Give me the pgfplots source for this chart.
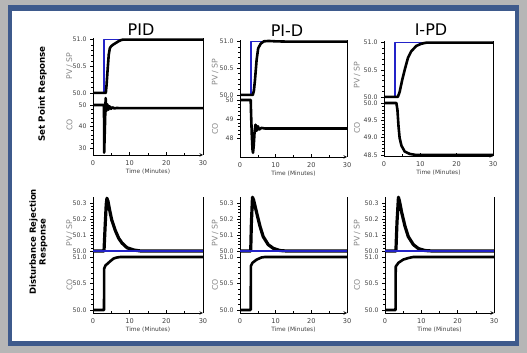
\documentclass[border=0pt]{standalone}
\usepackage{pgfplots}
\pgfplotsset{compat=1.18}
\usepackage{fontspec}
\setmainfont{DejaVu Sans}
\definecolor{spblue}{RGB}{35,35,200}
\definecolor{framebl}{RGB}{62,90,140}
\definecolor{outerg}{RGB}{182,182,182}
\definecolor{lblgray}{RGB}{135,135,135}
\pgfplotsset{
  base/.style={
    scale only axis, anchor=south west, clip=false,
    xmin=0, xmax=30,
    /pgf/number format/assume math mode=true,
    tick label style={font=\fontsize{6.2}{7}\selectfont, text=black!75},
    major tick length=3pt, minor tick length=1.6pt,
    every tick/.style={black, line width=0.5pt},
    minor y tick num=4,
    axis line style={line width=0.6pt},
    x axis line style={-}, y axis line style={-},
    yticklabel style={/pgf/number format/.cd, fixed, fixed zerofill, precision=1},
  },
  pvax/.style={base, axis x line=none, axis y line=box, xtick=\empty,
    ytick pos=left, ytick align=outside},
  coax/.style={base, axis x line=bottom, axis y line=box,
    ytick pos=left, ytick align=outside,
    xtick={0,10,20,30}, minor xtick={5,15,25}, xtick align=inside,
    xticklabel style={yshift=-2pt, font=\fontsize{6.6}{7.5}\selectfont},
    xlabel={Time (Minutes)},
    xlabel style={font=\fontsize{5.9}{6.8}\selectfont, text=black!75, yshift=3pt}},
  sp/.style={spblue, line width=1.6pt, line join=round},
  pv/.style={black, line width=2.6pt, line join=round},
  pvd/.style={black, line width=3.2pt, line join=round},
  spd/.style={spblue, line width=2pt},
  co/.style={black, line width=2.6pt, line join=round},
}
\begin{document}
\begin{tikzpicture}
\fill[outerg] (0pt,0pt) rectangle (527pt,353pt);
\fill[framebl] (8pt,7pt) rectangle (519pt,348pt);
\fill[white] (12pt,12pt) rectangle (515pt,342pt);
\path[use as bounding box] (0pt,0pt) rectangle (527pt,353pt);

% titles
\node[font=\fontsize{16}{18}\selectfont] at (141pt,323pt) {PID};
\node[font=\fontsize{16}{18}\selectfont] at (287pt,322pt) {PI-D};
\node[font=\fontsize{16}{18}\selectfont] at (431pt,323pt) {I-PD};
% row labels
\node[font=\bfseries\fontsize{8.7}{10}\selectfont, rotate=90] at (42.5pt,259pt) {Set Point Response};
\node[font=\bfseries\fontsize{8.5}{9.8}\selectfont, rotate=90, align=center] at (38.5pt,111pt) {Disturbance Rejection\\Response};
% axis labels
\foreach \xx/\ya/\yb in {69.5/287/228, 215/281/224, 357/278/225}{
  \node[font=\fontsize{7.8}{9}\selectfont, text=lblgray, rotate=90] at (\xx pt,\ya pt) {PV / SP};
  \node[font=\fontsize{7.8}{9}\selectfont, text=lblgray, rotate=90] at (\xx pt,\yb pt) {CO};
}
\foreach \xx in {69.5, 215, 357}{
  \node[font=\fontsize{7.8}{9}\selectfont, text=lblgray, rotate=90] at (\xx pt,120pt) {PV / SP};
  \node[font=\fontsize{7.8}{9}\selectfont, text=lblgray, rotate=90] at (\xx pt,68pt) {CO};
}

%% ---------- Row 1: set point response ----------
% PID
\begin{axis}[pvax, at={(93pt,259pt)}, width=110pt, height=56pt,
  ymin=49.98, ymax=51.03, ytick={50,50.5,51}]
\addplot[sp] coordinates {(0,50)(3,50)(3,51)(30,51)};
\addplot[pv] coordinates {(0,50)(3.5,50)(3.7,50.15)(4.0,50.45)(4.3,50.72)(4.6,50.84)(5.0,50.88)(5.6,50.91)(6.3,50.94)(7,50.97)(7.8,50.995)(8.5,51)(30,51)};
\end{axis}
\begin{axis}[coax, at={(93pt,198pt)}, width=110pt, height=61pt,
  ymin=26.7, ymax=55.1, ytick={30,40,50},
  yticklabel style={/pgf/number format/precision=0}]
\addplot[co] coordinates {(0,50)(3,50)(3.05,27.8)(3.25,40)(3.45,53.2)(3.65,47.2)(3.9,50.3)(4.2,47.8)(4.5,49.4)(4.9,48.2)(5.3,48.9)(5.8,48.4)(6.5,48.6)(7.5,48.5)(30,48.5)};
\end{axis}
% PI-D
\begin{axis}[pvax, at={(240pt,257pt)}, width=107pt, height=56pt,
  ymin=49.98, ymax=51.03, ytick={50,50.5,51}]
\addplot[sp] coordinates {(0,50)(3,50)(3,51)(30,51)};
\addplot[pv] coordinates {(0,50)(3.6,50)(3.9,50.08)(4.2,50.28)(4.66,50.66)(5.1,50.875)(5.8,50.96)(6.7,51.005)(8,51.012)(10,51.005)(13,51)(30,51)};
\end{axis}
\begin{axis}[coax, at={(240pt,196pt)}, width=107pt, height=61pt,
  ymin=47.0, ymax=50.21, ytick={48,49,50},
  yticklabel style={/pgf/number format/precision=0}]
\addplot[co] coordinates {(0,50)(3,50)(3.1,49.3)(3.3,48.2)(3.5,47.4)(3.65,47.22)(3.85,47.6)(4.1,48.35)(4.35,48.7)(4.65,48.38)(5.0,48.62)(5.4,48.45)(6.0,48.53)(7,48.5)(30,48.5)};
\end{axis}
% I-PD
\begin{axis}[pvax, at={(384pt,255pt)}, width=109pt, height=57pt,
  ymin=49.98, ymax=51.03, ytick={50,50.5,51}]
\addplot[sp] coordinates {(0,50)(3,50)(3,51)(30,51)};
\addplot[pv] coordinates {(0,50)(3.8,50)(4.3,50.09)(5.0,50.31)(5.7,50.5)(6.6,50.72)(7.5,50.84)(8.9,50.94)(10.3,50.98)(11.7,51)(30,51)};
\end{axis}
\begin{axis}[coax, at={(384pt,197pt)}, width=109pt, height=58pt,
  ymin=48.471, ymax=50.144, ytick={48.5,49,49.5,50}]
\addplot[co] coordinates {(0,50)(3.4,50)(3.7,49.8)(4.0,49.32)(4.3,48.99)(4.8,48.77)(5.7,48.6)(7.1,48.53)(8.9,48.5)(30,48.5)};
\end{axis}

%% ---------- Row 2: disturbance rejection ----------
% PID
\begin{axis}[pvax, at={(93pt,100pt)}, width=110pt, height=56pt,
  ymin=49.9875, ymax=50.3375, ytick={50,50.1,50.2,50.3}]
\addplot[pvd] coordinates {(0,50)(3,50)(3.3,50.15)(3.6,50.29)(3.8,50.33)(4.1,50.31)(4.5,50.26)(5.1,50.195)(6.05,50.13)(7,50.08)(7.9,50.05)(9.3,50.02)(11.2,50.006)(13,50)(30,50)};
\addplot[spd] coordinates {(0,50)(30,50)};
\end{axis}
\begin{axis}[coax, at={(93pt,40pt)}, width=110pt, height=60pt,
  ymin=49.943, ymax=51.075, ytick={50,50.5,51}]
\addplot[co] coordinates {(0,50)(3,50)(3.05,50.78)(3.4,50.84)(3.9,50.87)(4.7,50.92)(5.6,50.97)(6.5,50.99)(7.5,51)(30,51)};
\end{axis}
% PI-D
\begin{axis}[pvax, at={(240pt,100pt)}, width=107pt, height=56pt,
  ymin=49.9875, ymax=50.3375, ytick={50,50.1,50.2,50.3}]
\addplot[pvd] coordinates {(0,50)(3,50)(3.2,50.18)(3.5,50.336)(3.8,50.32)(4.66,50.24)(5.6,50.155)(6.5,50.09)(7.9,50.04)(9.3,50.017)(11.2,50.003)(13,50)(30,50)};
\addplot[spd] coordinates {(0,50)(30,50)};
\end{axis}
\begin{axis}[coax, at={(240pt,40pt)}, width=107pt, height=60pt,
  ymin=49.943, ymax=51.075, ytick={50,50.5,51}]
\addplot[co] coordinates {(0,50)(3,50)(3.05,50.83)(3.5,50.89)(4.66,50.95)(6.0,50.99)(7,51)(30,51)};
\end{axis}
% I-PD
\begin{axis}[pvax, at={(385pt,100pt)}, width=109pt, height=56pt,
  ymin=49.9875, ymax=50.3375, ytick={50,50.1,50.2,50.3}]
\addplot[pvd] coordinates {(0,50)(3,50)(3.3,50.18)(3.7,50.336)(4.0,50.31)(4.6,50.24)(5.5,50.155)(6.4,50.09)(7.8,50.04)(9.2,50.015)(11,50.003)(13,50)(30,50)};
\addplot[spd] coordinates {(0,50)(30,50)};
\end{axis}
\begin{axis}[coax, at={(385pt,40pt)}, width=109pt, height=60pt,
  ymin=49.943, ymax=51.075, ytick={50,50.5,51}]
\addplot[co] coordinates {(0,50)(2.9,50)(2.95,50.82)(3.7,50.89)(5.0,50.95)(6.4,50.98)(7.8,51)(30,51)};
\end{axis}
\end{tikzpicture}
\end{document}
